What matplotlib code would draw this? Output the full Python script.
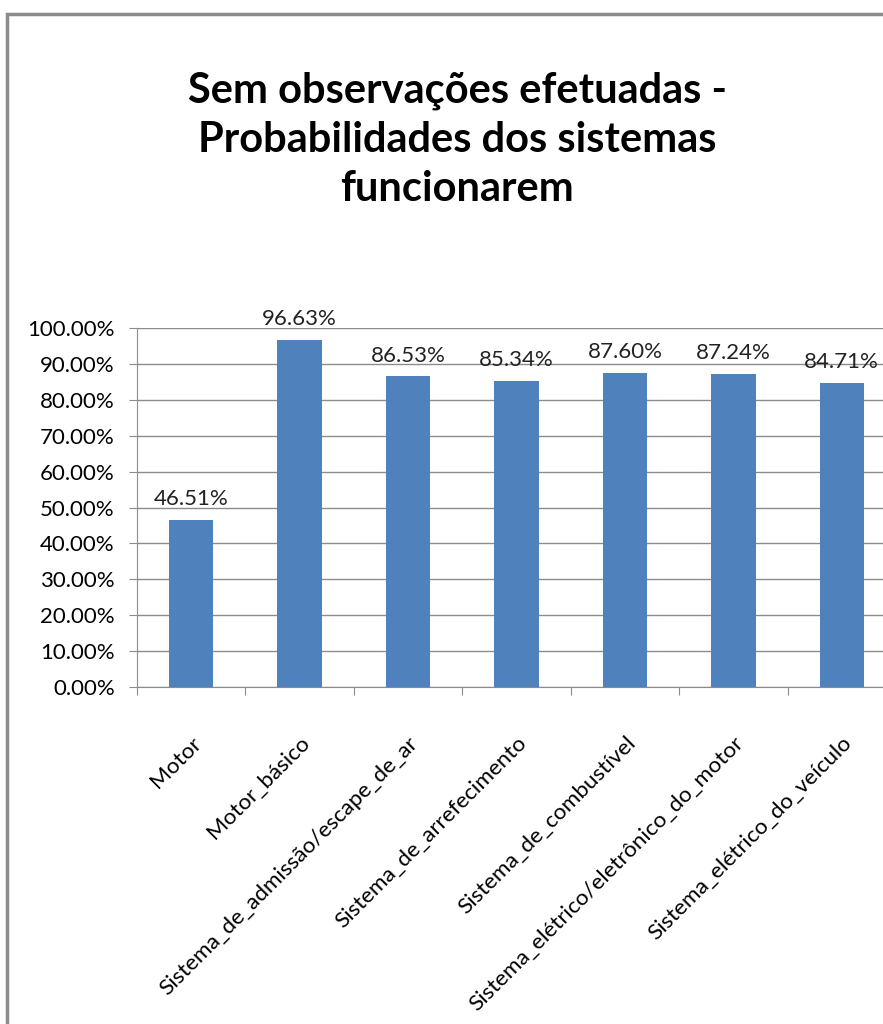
import matplotlib.pyplot as plt
from matplotlib.patches import Rectangle
from matplotlib.ticker import FuncFormatter, MultipleLocator

systems = ["Motor", "Motor_básico", "Sistema_de_admissão/escape_de_ar",
           "Sistema_de_arrefecimento", "Sistema_de_combustível",
           "Sistema_elétrico/eletrônico_do_motor", "Sistema_elétrico_do_veículo"]
probabilities = [46.51, 96.63, 86.53, 85.34, 87.60, 87.24, 84.71]

plt.rcParams['font.family'] = ['Lato', 'DejaVu Sans']

W, H = 883, 1024
fig = plt.figure(figsize=(W / 100, H / 100), dpi=100)

# outer chart frame, cut off at the right and bottom
fig.patches.append(Rectangle((7 / W, -0.1), 1.1, 1 - 14 / H + 0.1, transform=fig.transFigure,
                             fill=False, edgecolor="#8c8c8c", linewidth=2.5))

fig.text(0.518, 1 - 140 / H, "Sem observações efetuadas -\nProbabilidades dos sistemas\nfuncionarem",
         ha="center", va="center", fontsize=30, fontweight="bold", linespacing=1.35)

ax = fig.add_axes([137 / W, 1 - 687 / H, (896 - 137) / W, (687 - 328) / H])
x = range(len(systems))
bars = ax.bar(x, probabilities, width=0.41, color="#4f81bd", zorder=3)

for xi, v in zip(x, probabilities):
    ax.text(xi, v + 3.0, f"{v:.2f}%", ha="center", va="bottom", fontsize=16, color="#222222")

ax.set_ylim(0, 100)
ax.set_xlim(-0.5, len(systems) - 0.5)
ax.yaxis.set_major_locator(MultipleLocator(10))
ax.yaxis.set_major_formatter(FuncFormatter(lambda v, p: f"{v:.2f}%"))
ax.grid(axis="y", color="#8c8c8c", linewidth=1, zorder=0)

ax.set_xticks([i - 0.5 for i in range(len(systems))] + [len(systems) - 0.5], minor=False)
ax.set_xticklabels([])
ax.set_xticks(list(x), minor=True)
ax.set_xticklabels(systems, minor=True, rotation=45, ha="right", rotation_mode="anchor",
                   fontsize=16.2)
ax.tick_params(axis="x", which="minor", length=0, pad=33)
ax.tick_params(axis="x", which="major", length=6, color="#8c8c8c")
ax.tick_params(axis="y", length=6, color="#8c8c8c", labelsize=16, pad=10)

for side in ["top", "right"]:
    ax.spines[side].set_visible(False)
for side in ["left", "bottom"]:
    ax.spines[side].set_color("#8c8c8c")

fig.savefig("out.png", dpi=100)
